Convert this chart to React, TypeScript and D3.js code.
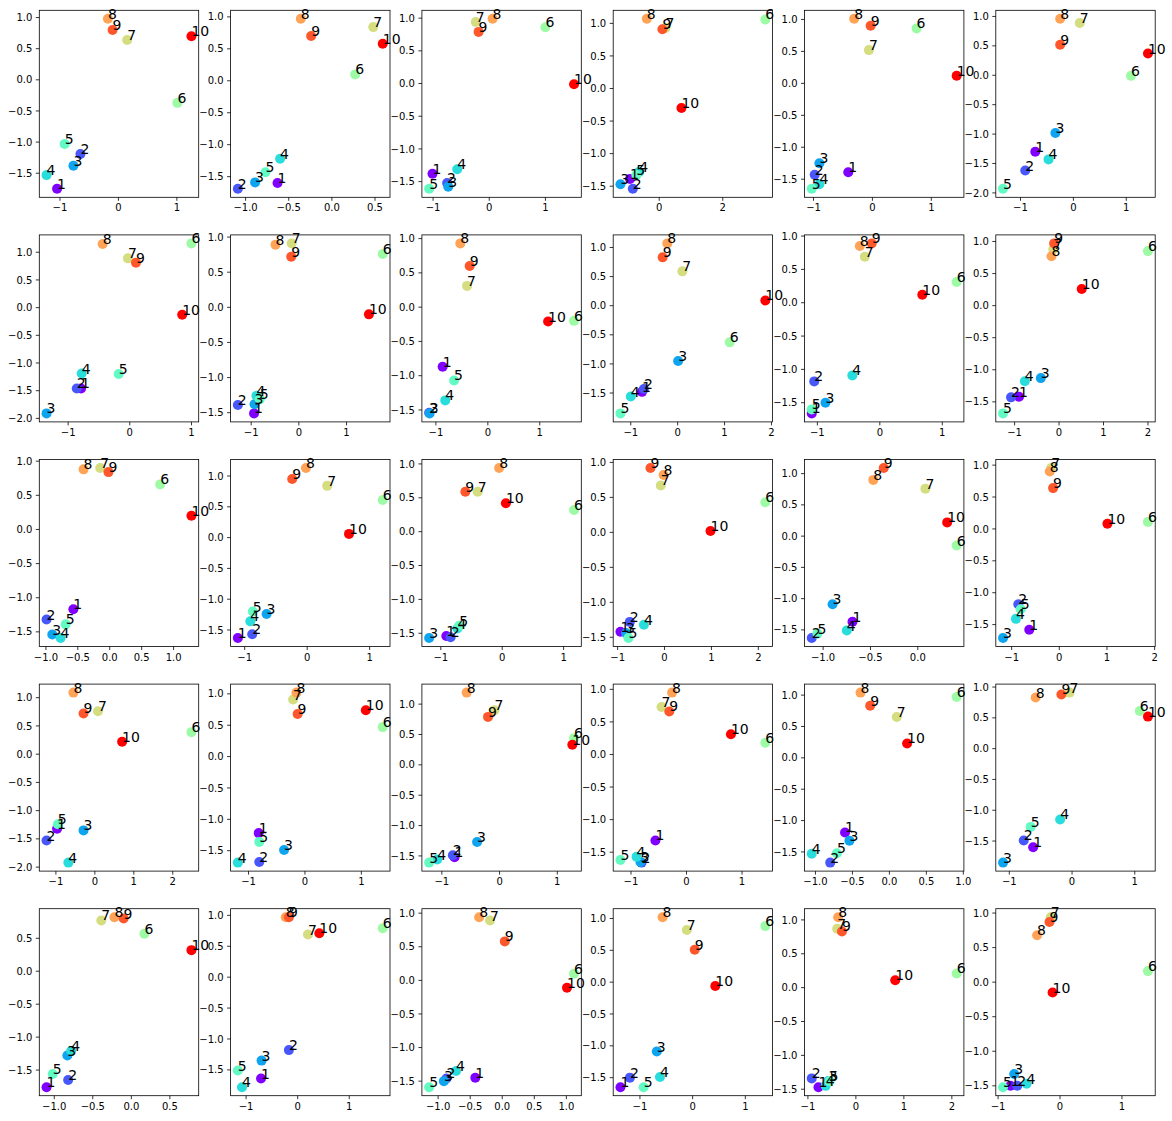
import React from 'react';
import * as d3 from 'd3';

// point labels, one per scatter point
const labels = ['1', '2', '3', '4', '5', '6', '7', '8', '9', '10'];

// x values, one row of 10 per subplot (5 rows x 6 cols, row-major)
const panelX: number[][] = [
  [-1.05, -0.65, -0.77, -1.23, -0.92, 1.01, 0.15, -0.18, -0.10, 1.25],
  [-0.63, -1.09, -0.89, -0.60, -0.77, 0.27, 0.48, -0.36, -0.24, 0.59],
  [-1.01, -0.75, -0.73, -0.57, -1.07, 1.00, -0.24, 0.06, -0.19, 1.51],
  [-0.92, -0.83, -1.22, -0.63, -0.72, 3.34, 0.20, -0.39, 0.10, 0.70],
  [-0.41, -0.98, -0.90, -0.90, -1.03, 0.75, -0.06, -0.31, -0.03, 1.43],
  [-0.72, -0.91, -0.34, -0.47, -1.33, 1.09, 0.12, -0.25, -0.25, 1.41],

  [-0.79, -0.86, -1.35, -0.78, -0.18, 1.00, -0.03, -0.44, 0.10, 0.85],
  [-0.94, -1.28, -0.93, -0.89, -0.82, 1.76, -0.15, -0.49, -0.16, 1.47],
  [-0.87, -1.13, -1.12, -0.82, -0.65, 1.66, -0.40, -0.53, -0.35, 1.16],
  [-0.76, -0.72, 0.01, -1.00, -1.22, 1.11, 0.10, -0.22, -0.32, 1.87],
  [-1.09, -1.05, -0.87, -0.44, -1.09, 1.23, -0.24, -0.32, -0.13, 0.68],
  [-0.90, -1.08, -0.41, -0.77, -1.26, 2.00, -0.13, -0.17, -0.11, 0.51],

  [-0.57, -0.99, -0.90, -0.77, -0.69, 0.79, -0.15, -0.41, -0.02, 1.28],
  [-1.11, -0.88, -0.65, -0.91, -0.87, 1.21, 0.32, -0.02, -0.24, 0.67],
  [-0.91, -0.84, -1.19, -0.73, -0.70, 1.17, -0.40, -0.05, -0.60, 0.06],
  [-0.94, -0.74, -0.82, -0.44, -0.77, 2.15, -0.08, -0.02, -0.30, 0.98],
  [-0.69, -1.12, -0.90, -0.75, -1.06, 0.41, 0.08, -0.47, -0.36, 0.31],
  [-0.63, -0.86, -1.18, -0.91, -0.81, 1.86, -0.17, -0.20, -0.13, 1.01],

  [-0.97, -1.24, -0.29, -0.68, -0.95, 2.48, 0.08, -0.55, -0.29, 0.70],
  [-0.82, -0.81, -0.37, -1.19, -0.81, 1.38, -0.21, -0.15, -0.13, 1.08],
  [-0.78, -0.81, -0.39, -1.08, -1.22, 1.29, -0.09, -0.57, -0.20, 1.26],
  [-0.56, -0.81, -0.83, -0.90, -1.19, 1.42, -0.45, -0.26, -0.31, 0.80],
  [-0.60, -0.80, -0.54, -1.05, -0.71, 0.91, 0.10, -0.39, -0.26, 0.24],
  [-0.62, -0.77, -1.10, -0.19, -0.66, 1.08, -0.04, -0.58, -0.17, 1.21],

  [-1.10, -0.82, -0.83, -0.78, -1.02, 0.17, -0.39, -0.22, -0.10, 0.78],
  [-0.71, -0.17, -0.70, -1.08, -1.16, 1.65, 0.20, -0.23, -0.17, 0.42],
  [-0.42, -0.87, -0.91, -0.72, -1.14, 1.12, -0.19, -0.36, 0.04, 1.01],
  [-1.37, -1.19, -0.68, -0.62, -0.93, 1.38, -0.11, -0.57, 0.04, 0.43],
  [-0.78, -0.92, -0.57, -0.63, -0.55, 2.10, -0.39, -0.37, -0.29, 0.82],
  [-0.80, -0.69, -0.74, -0.54, -0.92, 1.42, -0.15, -0.37, -0.17, -0.12],
];

// y values, same layout
const panelY: number[][] = [
  [-1.75, -1.19, -1.38, -1.53, -1.03, -0.37, 0.64, 0.98, 0.80, 0.70],
  [-1.60, -1.69, -1.59, -1.22, -1.43, 0.10, 0.84, 0.97, 0.70, 0.58],
  [-1.38, -1.52, -1.58, -1.31, -1.61, 0.86, 0.94, 0.99, 0.79, -0.01],
  [-1.39, -1.54, -1.47, -1.28, -1.33, 1.06, 0.93, 1.07, 0.91, -0.30],
  [-1.39, -1.43, -1.25, -1.58, -1.65, 0.86, 0.52, 1.01, 0.90, 0.12],
  [-1.30, -1.62, -0.98, -1.43, -1.93, -0.01, 0.89, 0.96, 0.52, 0.37],

  [-1.46, -1.46, -1.91, -1.19, -1.20, 1.16, 0.89, 1.15, 0.81, -0.13],
  [-1.51, -1.39, -1.38, -1.26, -1.31, 0.76, 0.91, 0.89, 0.72, -0.10],
  [-0.87, -1.54, -1.55, -1.36, -1.07, -0.20, 0.31, 0.93, 0.60, -0.21],
  [-1.48, -1.43, -0.95, -1.56, -1.85, -0.63, 0.59, 1.07, 0.83, 0.09],
  [-1.66, -1.18, -1.50, -1.09, -1.60, 0.31, 0.69, 0.85, 0.89, 0.12],
  [-1.42, -1.43, -1.13, -1.18, -1.68, 0.85, 0.88, 0.77, 0.97, 0.26],

  [-1.17, -1.32, -1.54, -1.59, -1.39, 0.66, 0.90, 0.88, 0.84, 0.20],
  [-1.63, -1.57, -1.24, -1.36, -1.20, 0.61, 0.84, 1.13, 0.95, 0.06],
  [-1.54, -1.56, -1.57, -1.43, -1.39, 0.32, 0.59, 0.94, 0.59, 0.42],
  [-1.42, -1.28, -1.44, -1.32, -1.51, 0.43, 0.67, 0.82, 0.92, 0.02],
  [-1.37, -1.63, -1.09, -1.51, -1.56, -0.15, 0.76, 0.90, 1.09, 0.22],
  [-1.58, -1.18, -1.71, -1.41, -1.26, 0.11, 0.955, 0.90, 0.64, 0.08],

  [-1.32, -1.53, -1.35, -1.92, -1.24, 0.39, 0.76, 1.09, 0.72, 0.22],
  [-1.22, -1.68, -1.49, -1.69, -1.36, 0.47, 0.91, 1.02, 0.68, 0.74],
  [-1.52, -1.49, -1.27, -1.56, -1.61, 0.44, 0.90, 1.19, 0.79, 0.33],
  [-1.32, -1.66, -1.65, -1.57, -1.62, 0.18, 0.73, 0.95, 0.66, 0.31],
  [-1.19, -1.67, -1.32, -1.53, -1.52, 0.97, 0.65, 1.04, 0.83, 0.23],
  [-1.60, -1.49, -1.85, -1.15, -1.27, 0.61, 0.91, 0.83, 0.88, 0.52],

  [-1.76, -1.65, -1.28, -1.21, -1.56, 0.57, 0.77, 0.82, 0.80, 0.32],
  [-1.64, -1.18, -1.35, -1.78, -1.51, 0.79, 0.69, 0.97, 0.97, 0.71],
  [-1.45, -1.46, -1.50, -1.35, -1.59, 0.10, 0.89, 0.94, 0.58, -0.11],
  [-1.65, -1.50, -1.09, -1.49, -1.65, 0.88, 0.82, 1.02, 0.51, -0.06],
  [-1.47, -1.34, -1.38, -1.45, -1.38, 0.21, 0.87, 1.04, 0.83, 0.11],
  [-1.50, -1.50, -1.33, -1.47, -1.52, 0.16, 0.94, 0.68, 0.87, -0.15],
];

// x tick spacing per subplot
const xTickSteps = [
  1, 0.5, 1, 2, 1, 1,
  1, 1, 1, 1, 1, 1,
  0.5, 1, 1, 1, 0.5, 1,
  1, 1, 1, 1, 0.5, 1,
  0.5, 1, 0.5, 1, 1, 1,
];
const yTickStep = 0.5;

const W = 1172, H = 1121;
const left0 = 39.3, colStep = 191.3, axW = 159.4;
const top0 = 10.3, rowStep = 224.6, axH = 187;
const font = 'DejaVu Sans';

// matplotlib 'rainbow' colormap
function rainbow(t: number) {
  const r = Math.min(1, Math.abs(2 * t - 0.5));
  const g = Math.sin(Math.PI * t);
  const b = Math.cos((Math.PI / 2) * t);
  return d3.rgb(r * 255, g * 255, b * 255).formatHex();
}

function padded(vals: number[]): [number, number] {
  const [lo, hi] = d3.extent(vals) as [number, number];
  const m = (hi - lo) * 0.05;
  return [lo - m, hi + m];
}

function ticksFor(domain: [number, number], step: number) {
  const k0 = Math.ceil(domain[0] / step - 1e-9);
  const k1 = Math.floor(domain[1] / step + 1e-9);
  return d3.range(k0, k1 + 1).map(k => k * step);
}

function fmt(v: number, step: number) {
  const s = step < 1 ? v.toFixed(1) : String(Math.round(v));
  return s.replace('-', '\u2212');
}

function Panel({ idx }: { idx: number }) {
  const row = Math.floor(idx / 6), col = idx % 6;
  const x0 = left0 + col * colStep;
  const y0 = top0 + row * rowStep;
  const xs = panelX[idx], ys = panelY[idx];
  const xDom = padded(xs), yDom = padded(ys);
  const x = d3.scaleLinear().domain(xDom).range([x0, x0 + axW]);
  const y = d3.scaleLinear().domain(yDom).range([y0 + axH, y0]);
  const xStep = xTickSteps[idx];
  const xt = ticksFor(xDom, xStep);
  const yt = ticksFor(yDom, yTickStep);
  const clipId = `clip-${idx}`;
  const colors = labels.map((_, i) => rainbow(i / (labels.length - 1)));

  return (
    <g>
      <clipPath id={clipId}>
        <rect x={x0} y={y0} width={axW} height={axH} />
      </clipPath>
      <g clipPath={`url(#${clipId})`}>
        {xs.map((v, i) => (
          <circle key={i} cx={x(v)} cy={y(ys[i])} r={5} fill={colors[i]} />
        ))}
      </g>
      <rect x={x0} y={y0} width={axW} height={axH} fill="none" stroke="#000" strokeWidth={0.8} />
      {xt.map(v => (
        <g key={'x' + v}>
          <line x1={x(v)} x2={x(v)} y1={y0 + axH} y2={y0 + axH + 3.5} stroke="#000" strokeWidth={0.8} />
          <text x={x(v)} y={y0 + axH + 14} textAnchor="middle" fontSize={10} fontFamily={font} fill="#000">
            {fmt(v, xStep)}
          </text>
        </g>
      ))}
      {yt.map(v => (
        <g key={'y' + v}>
          <line x1={x0 - 3.5} x2={x0} y1={y(v)} y2={y(v)} stroke="#000" strokeWidth={0.8} />
          <text x={x0 - 7} y={y(v)} dy="0.36em" textAnchor="end" fontSize={10} fontFamily={font} fill="#000">
            {fmt(v, yTickStep)}
          </text>
        </g>
      ))}
      {xs.map((v, i) => (
        <text key={'l' + i} x={x(v)} y={y(ys[i])} fontSize={14} fontFamily={font} fill="#000">
          {labels[i]}
        </text>
      ))}
    </g>
  );
}

export default function App() {
  return (
    <svg width={W} height={H} style={{ position: 'absolute', left: 0, top: 0, background: '#fff' }}>
      <rect width={W} height={H} fill="#fff" />
      {panelX.map((_, i) => <Panel key={i} idx={i} />)}
    </svg>
  );
}
